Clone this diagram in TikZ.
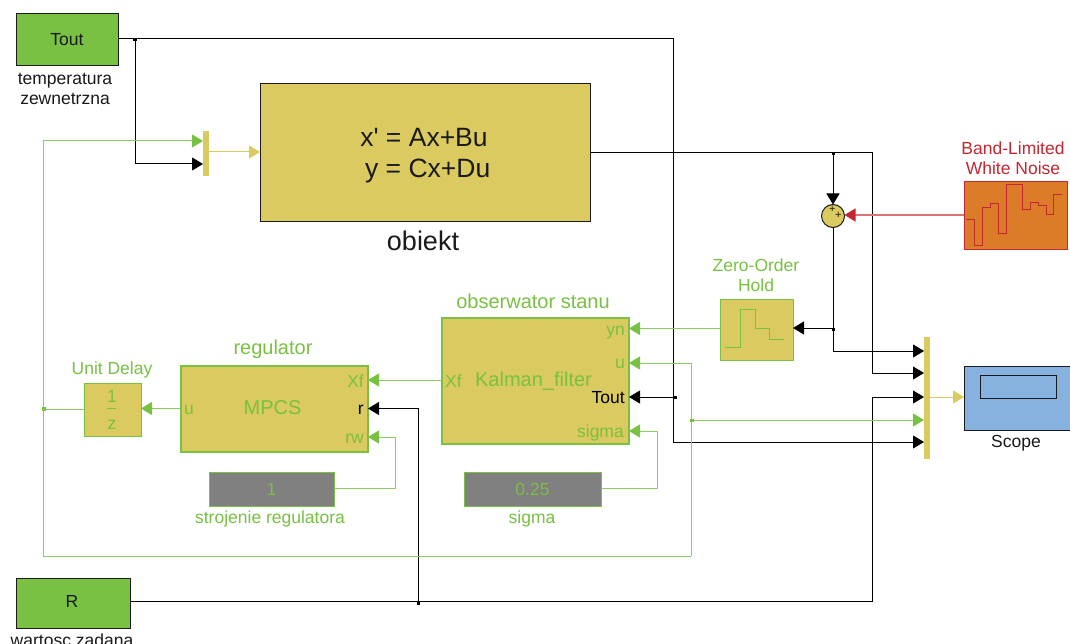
\documentclass[tikz,border=0pt]{standalone}
\usepackage{fontspec}
\setmainfont{Liberation Sans}
\newfontfamily\plainf{Liberation Sans}
\usetikzlibrary{arrows.meta}
\definecolor{grn}{HTML}{78C142}
\definecolor{grnline}{HTML}{8FCB65}
\definecolor{yel}{HTML}{DBCA5F}
\definecolor{org}{HTML}{DC7B28}
\definecolor{redc}{HTML}{C4272F}
\definecolor{blu}{HTML}{87B2E0}
\definecolor{gry}{HTML}{808080}
\definecolor{ink}{HTML}{1A1A1A}
\tikzset{
  x=1pt,y=-1pt,
  block/.style={draw=#1,line width=1pt,inner sep=0pt,outer sep=0pt,anchor=center},
  srcbox/.style={block=ink,fill=grn},
  subsys/.style={draw=grn,line width=2.2pt,fill=yel,inner sep=0pt,outer sep=0pt},
  thinsys/.style={draw=grn,line width=1pt,fill=yel,inner sep=0pt,outer sep=0pt},
  constbox/.style={draw=grn,line width=1pt,fill=gry,inner sep=0pt,outer sep=0pt,text=grn},
  muxbar/.style={fill=yel,draw=none,inner sep=0pt,outer sep=0pt},
  lab/.style={inner sep=0pt,font=\fontsize{17.5}{20}\selectfont,align=center,text=ink},
  glab/.style={lab,text=grn},
  rlab/.style={lab,text=redc},
  port/.style={inner sep=0pt,font=\fontsize{17.5}{20}\selectfont,text=grn},
  kw/.style={draw=black,line width=1pt,-{Triangle[length=11pt,width=13pt]}},
  kg/.style={draw=grnline,line width=1pt,-{Triangle[length=11pt,width=13pt,color=grn]}},
  ky/.style={draw=yel,line width=1pt,-{Triangle[length=11pt,width=13pt]}},
  kr/.style={draw=redc!65,line width=1.2pt,-{Triangle[length=11pt,width=13pt,color=redc]}},
  kplain/.style={draw=black,line width=1pt},
  gplain/.style={draw=grnline,line width=1pt},
  jdot/.style={fill=black,draw=none,minimum size=3.5pt,inner sep=0pt,rectangle},
  gdot/.style={fill=grn,draw=none,minimum size=3.5pt,inner sep=0pt,rectangle},
  sig/.style={line width=1pt,line join=miter}
}
\begin{document}
\begin{tikzpicture}
\clip (0,0) rectangle (1070,644);
\fill[white] (0,0) rectangle (1070,644);

% blocks
\node[srcbox,minimum width=102pt,minimum height=52pt,font=\fontsize{17.5}{20}\selectfont,text=ink] (tout) at (67,39.5) {Tout};
\node[lab] (toutlab) at (65,88.5) {temperatura\\zewnetrzna};
\node[srcbox,minimum width=114pt,minimum height=50pt,font=\fontsize{17.5}{20}\selectfont,text=ink] (rsrc) at (73,603) {};
\node[inner sep=0pt,font=\fontsize{17.5}{20}\selectfont,text=ink] (rtxt) at (72,601.5) {R};
\node[lab] (rlab1) at (72,640) {wartosc zadana};

\node[muxbar,minimum width=6pt,minimum height=45pt] (mux1) at (206,153.5) {};
\node[block=ink,fill=yel,minimum width=330pt,minimum height=138pt] (obj) at (425,153) {};
\node[inner sep=0pt,font=\fontsize{26.5}{31}\selectfont\plainf,text=ink,align=center] (objtxt) at (424,155.5) {x' = Ax+Bu\\\ y = Cx+Du};
\node[lab,font=\fontsize{27}{30}\selectfont] (objlab) at (423,241) {obiekt};

\node[block=redc,fill=org,minimum width=103pt,minimum height=68pt] (noise) at (1015.5,216) {};
\node[rlab] (noiselab) at (1013,158) {Band-Limited\\White Noise};
\draw[redc,sig] (965.7,219.3) -- (974.3,219.3) -- (974.3,245.3) -- (982.3,245.3) -- (982.3,207.3) -- (990.7,207.3) -- (990.7,204) -- (998.3,204) -- (998.3,234) -- (1006.7,234) -- (1006.7,184.3) -- (1022,184.3) -- (1022,210) -- (1030,210) -- (1030,202.7) -- (1038.3,202.7) -- (1038.3,206) -- (1046,206) -- (1046,214.3) -- (1053.7,214.3) -- (1053.7,194.3) -- (1061.7,194.3);

\node[circle,draw=ink,line width=1pt,fill=yel,minimum size=23pt,inner sep=0pt,outer sep=0pt] (sum) at (833,216) {};
\node[inner sep=0pt,font=\fontsize{11}{11}\selectfont,text=ink] (plusa) at (832.3,209) {+};
\node[inner sep=0pt,font=\fontsize{11}{11}\selectfont,text=ink] (plusb) at (838.3,215) {+};

\node[thinsys,minimum width=73pt,minimum height=61pt] (zoh) at (756.5,329.5) {};
\node[glab] (zohlab) at (756,275) {Zero-Order\\Hold};
\draw[grn,sig] (725.3,347) -- (740.7,347) -- (740.7,309.3) -- (755,309.3) -- (755,328.7) -- (769.7,328.7) -- (769.7,339.7) -- (784.3,339.7);

\node[subsys,minimum width=187pt,minimum height=126pt] (kal) at (535.5,381) {};
\node[glab,font=\fontsize{20}{22}\selectfont] (kallab) at (533,301.5) {obserwator stanu};
\node[port,font=\fontsize{20}{22}\selectfont] (kaltxt) at (533.5,381) {Kalman\_filter};
\node[port,anchor=east] (kyn) at (625,332.5) {yn};
\node[port,anchor=east] (ku) at (625,364) {u};
\node[port,anchor=east,text=black] (ktout) at (625,397.5) {Tout};
\node[port,anchor=east] (ksig) at (624,433) {sigma};
\node[port,anchor=west] (kxf) at (445,381) {Xf};

\node[subsys,minimum width=187pt,minimum height=86pt] (mpc) at (274.5,409) {};
\node[glab,font=\fontsize{20}{22}\selectfont] (mpclab) at (273,349) {regulator};
\node[port,font=\fontsize{20}{22}\selectfont] (mpctxt) at (272.5,408) {MPCS};
\node[port,anchor=east] (mxf) at (364,381) {Xf};
\node[port,anchor=east,text=black] (mr) at (364,410) {r};
\node[port,anchor=east] (mrw) at (364,439) {rw};
\node[port,anchor=west] (mu) at (184,410) {u};

\node[thinsys,minimum width=57pt,minimum height=53pt] (ud) at (112.5,409.5) {};
\node[glab] (udlab) at (112,370) {Unit Delay};
\node[port] (udn) at (112,396) {1};
\node[port] (udd) at (112,425) {z};
\draw[grn,line width=0.8pt] (107,408.5) -- (116,408.5);

\node[constbox,minimum width=125pt,minimum height=34pt,font=\fontsize{17.5}{20}\selectfont] (cone) at (271.5,489) {1};
\node[glab] (conelab) at (270,518.5) {strojenie regulatora};
\node[constbox,minimum width=137pt,minimum height=34pt,font=\fontsize{17.5}{20}\selectfont] (csig) at (532.5,489) {0.25};
\node[glab] (csiglab) at (532,519) {sigma};

\node[muxbar,minimum width=6pt,minimum height=122pt] (mux2) at (927,398) {};
\node[block=ink,fill=blu,minimum width=108pt,minimum height=64pt] (scope) at (1018,398) {};
\node[block=ink,fill=blu,minimum width=76pt,minimum height=23pt] (scopein) at (1018,386.5) {};
\node[lab] (scopelab) at (1016,443.5) {Scope};

% named points on block edges
\coordinate (kalE) at (kal.east);
\coordinate (mpcE) at (mpc.east);
\coordinate (mux2W) at (mux2.west);

% black wiring
\draw[kplain] (tout.east |- 0,39) -- (673,39) -- (673,442);
\draw[kw] (673,442) -- (mux2W |- 0,442);
\draw[kw] (135,39) -- (135,164) -- (mux1.west |- 0,164);
\node[jdot] (j1) at (135,39.5) {};
\draw[kw] (675,397) -- (kalE |- 0,397);
\node[jdot] (j2) at (675,397.5) {};
\draw[kplain] (obj.east |- 0,152.5) -- (872,152.5);
\draw[kw] (872,152.5) -- (872,373) -- (mux2W |- 0,373);
\draw[kw] (833,153) -- (sum.north);
\node[jdot] (j3) at (833.5,153.5) {};
\draw[kw] (sum.south) -- (833,351) -- (mux2W |- 0,351);
\node[jdot] (j4) at (833.5,329.5) {};
\draw[kw] (833,328) -- (zoh.east |- 0,328);
\draw[kw] (rsrc.east |- 0,601.5) -- (872,601.5) -- (872,397) -- (mux2W |- 0,397);
\draw[kw] (418,601.5) -- (418,408.5) -- (mpcE |- 0,408.5);
\node[jdot] (j5) at (418.5,603) {};

% green wiring
\draw[kg] (ud.west |- 0,409) -- (43,409) -- (43,141) -- (mux1.west |- 0,141);
\node[gdot] (g1) at (44,409) {};
\draw[gplain] (43,409) -- (43,556) -- (691,556);
\draw[kg] (691,556) -- (691,363) -- (kalE |- 0,363);
\draw[kg] (691,420) -- (mux2W |- 0,420);
\node[gdot] (g2) at (692,420.5) {};
\draw[kg] (mpc.west |- 0,408.5) -- (ud.east |- 0,408.5);
\draw[kg] (kal.west |- 0,380) -- (mpcE |- 0,380);
\draw[kg] (zoh.west |- 0,328.5) -- (kalE |- 0,328.5);
\draw[kg] (cone.east |- 0,488) -- (395,488) -- (395,437) -- (mpcE |- 0,437);
\draw[kg] (csig.east |- 0,488) -- (657,488) -- (657,431) -- (kalE |- 0,431);

% yellow and red wiring
\draw[ky] (mux1.east |- 0,152) -- (obj.west |- 0,152);
\draw[ky] (mux2.east |- 0,397) -- (scope.west |- 0,397);
\draw[kr] (noise.west |- 0,215) -- (sum.east |- 0,215);
\end{tikzpicture}
\end{document}
